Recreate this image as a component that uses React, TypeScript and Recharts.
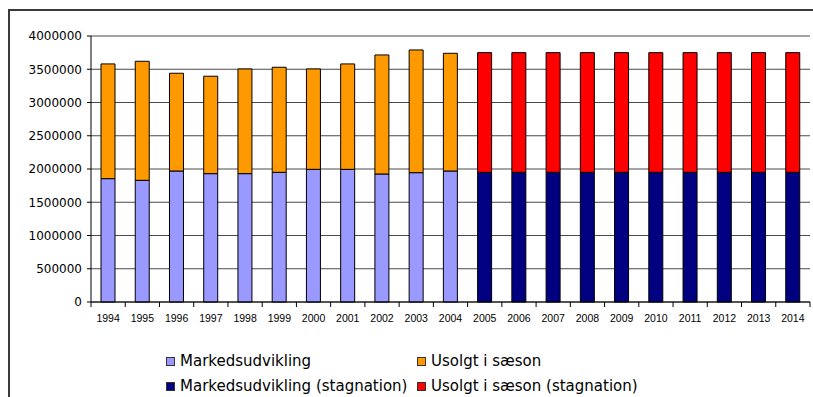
import React from 'react';
import { BarChart, Bar, XAxis, YAxis, CartesianGrid } from 'recharts';

// Sæsonår
const years = [
  '1994', '1995', '1996', '1997', '1998', '1999', '2000', '2001', '2002', '2003', '2004',
  '2005', '2006', '2007', '2008', '2009', '2010', '2011', '2012', '2013', '2014',
];

// Historisk markedsudvikling og usolgt kapacitet (1994-2004)
const markedsudvikling = [
  1855000, 1830000, 1970000, 1930000, 1930000, 1950000, 1995000, 1995000, 1925000, 1945000, 1970000,
  null, null, null, null, null, null, null, null, null, null,
];
const usolgtISaeson = [
  1725000, 1790000, 1470000, 1465000, 1575000, 1580000, 1510000, 1585000, 1790000, 1845000, 1770000,
  null, null, null, null, null, null, null, null, null, null,
];

// Fremskrivning ved stagnation (2005-2014)
const markedsudviklingStagnation = [
  null, null, null, null, null, null, null, null, null, null, null,
  1950000, 1950000, 1950000, 1950000, 1950000, 1950000, 1950000, 1950000, 1950000, 1950000,
];
const usolgtISaesonStagnation = [
  null, null, null, null, null, null, null, null, null, null, null,
  1800000, 1800000, 1800000, 1800000, 1800000, 1800000, 1800000, 1800000, 1800000, 1800000,
];

const yTicks = [0, 500000, 1000000, 1500000, 2000000, 2500000, 3000000, 3500000, 4000000];

const series = [
  { key: 'markedsudvikling', name: 'Markedsudvikling', color: '#9999FF' },
  { key: 'usolgt', name: 'Usolgt i sæson', color: '#FF9900' },
  { key: 'markedsudviklingStagnation', name: 'Markedsudvikling (stagnation)', color: '#000080' },
  { key: 'usolgtStagnation', name: 'Usolgt i sæson (stagnation)', color: '#FF0000' },
];

const data = years.map((year, i) => ({
  year,
  markedsudvikling: markedsudvikling[i],
  usolgt: usolgtISaeson[i],
  markedsudviklingStagnation: markedsudviklingStagnation[i],
  usolgtStagnation: usolgtISaesonStagnation[i],
}));

const W = 813;
const H = 397;
const MARGIN = { top: 36, right: 3, left: 0, bottom: 65 };
const Y_AXIS_W = 91;

// Category label with Excel-style tick marks on the category boundaries
const YearTick = (props: any) => {
  const { x, y, payload, index, visibleTicksCount } = props;
  const half =
    payload && typeof payload.offset === 'number' && payload.offset > 0
      ? payload.offset
      : (W - MARGIN.right - Y_AXIS_W) / years.length / 2;
  const isLast = index === (visibleTicksCount ?? years.length) - 1;
  return (
    <g>
      <line x1={x - half} x2={x - half} y1={y} y2={y + 5} stroke="#000" strokeWidth={1} />
      {isLast && <line x1={x + half} x2={x + half} y1={y} y2={y + 5} stroke="#000" strokeWidth={1} />}
      <text
        x={x}
        y={y + 20}
        textAnchor="middle"
        fontSize={10.5}
        fontFamily="'Liberation Sans', Arial, sans-serif"
        fill="#000"
      >
        {payload.value}
      </text>
    </g>
  );
};

const legendRows = [
  [series[0], series[1]],
  [series[2], series[3]],
];
const legendCols = [166, 417];
const legendRowY = [352, 377];

export default function App() {
  return (
    <div
      style={{
        position: 'absolute',
        left: 0,
        top: 0,
        width: W,
        height: H,
        overflow: 'hidden',
        background: '#fff',
      }}
    >
      {/* chart frame */}
      <div
        style={{
          position: 'absolute',
          left: 8,
          top: 9,
          width: W + 20,
          height: H + 20,
          borderTop: '2px solid #3a3a3a',
          borderLeft: '2px solid #3a3a3a',
          boxSizing: 'border-box',
        }}
      />
      <div style={{ position: 'absolute', left: 0, top: 0 }}>
        <BarChart width={W} height={H} data={data} margin={MARGIN} barSize={14}>
          <CartesianGrid vertical={false} stroke="#4a4a4a" strokeWidth={1} />
          <XAxis
            dataKey="year"
            interval={0}
            height={30}
            tickLine={false}
            tickSize={0}
            tickMargin={0}
            axisLine={{ stroke: '#000', strokeWidth: 1 }}
            tick={<YearTick />}
          />
          <XAxis xAxisId="frame" orientation="top" height={0} tick={false} tickLine={false} axisLine={{ stroke: '#999' }} />
          <YAxis
            width={Y_AXIS_W}
            domain={[0, 4000000]}
            ticks={yTicks}
            interval={0}
            tickSize={4}
            tickMargin={5}
            axisLine={{ stroke: '#000', strokeWidth: 1 }}
            tickLine={{ stroke: '#000', strokeWidth: 1 }}
            tick={{ fontSize: 12, fill: '#000', fontFamily: "'DejaVu Sans', Verdana, sans-serif" }}
          />
          <YAxis yAxisId="frame" orientation="right" width={0} tick={false} tickLine={false} axisLine={{ stroke: '#999' }} />
          {series.map((s) => (
            <Bar
              key={s.key}
              dataKey={s.key}
              name={s.name}
              stackId="total"
              fill={s.color}
              stroke="#000"
              strokeWidth={1}
              isAnimationActive={false}
            />
          ))}
        </BarChart>
      </div>
      {legendRows.map((row, r) =>
        row.map((s, c) => (
          <div
            key={s.key}
            style={{
              position: 'absolute',
              left: legendCols[c],
              top: legendRowY[r],
              display: 'flex',
              alignItems: 'center',
              fontFamily: "'DejaVu Sans', Verdana, sans-serif",
              fontSize: 15,
              lineHeight: '18px',
              color: '#000',
              whiteSpace: 'nowrap',
            }}
          >
            <span
              style={{
                display: 'inline-block',
                width: 7,
                height: 7,
                background: s.color,
                border: '1px solid #333',
                marginRight: 5,
              }}
            />
            {s.name}
          </div>
        ))
      )}
    </div>
  );
}
